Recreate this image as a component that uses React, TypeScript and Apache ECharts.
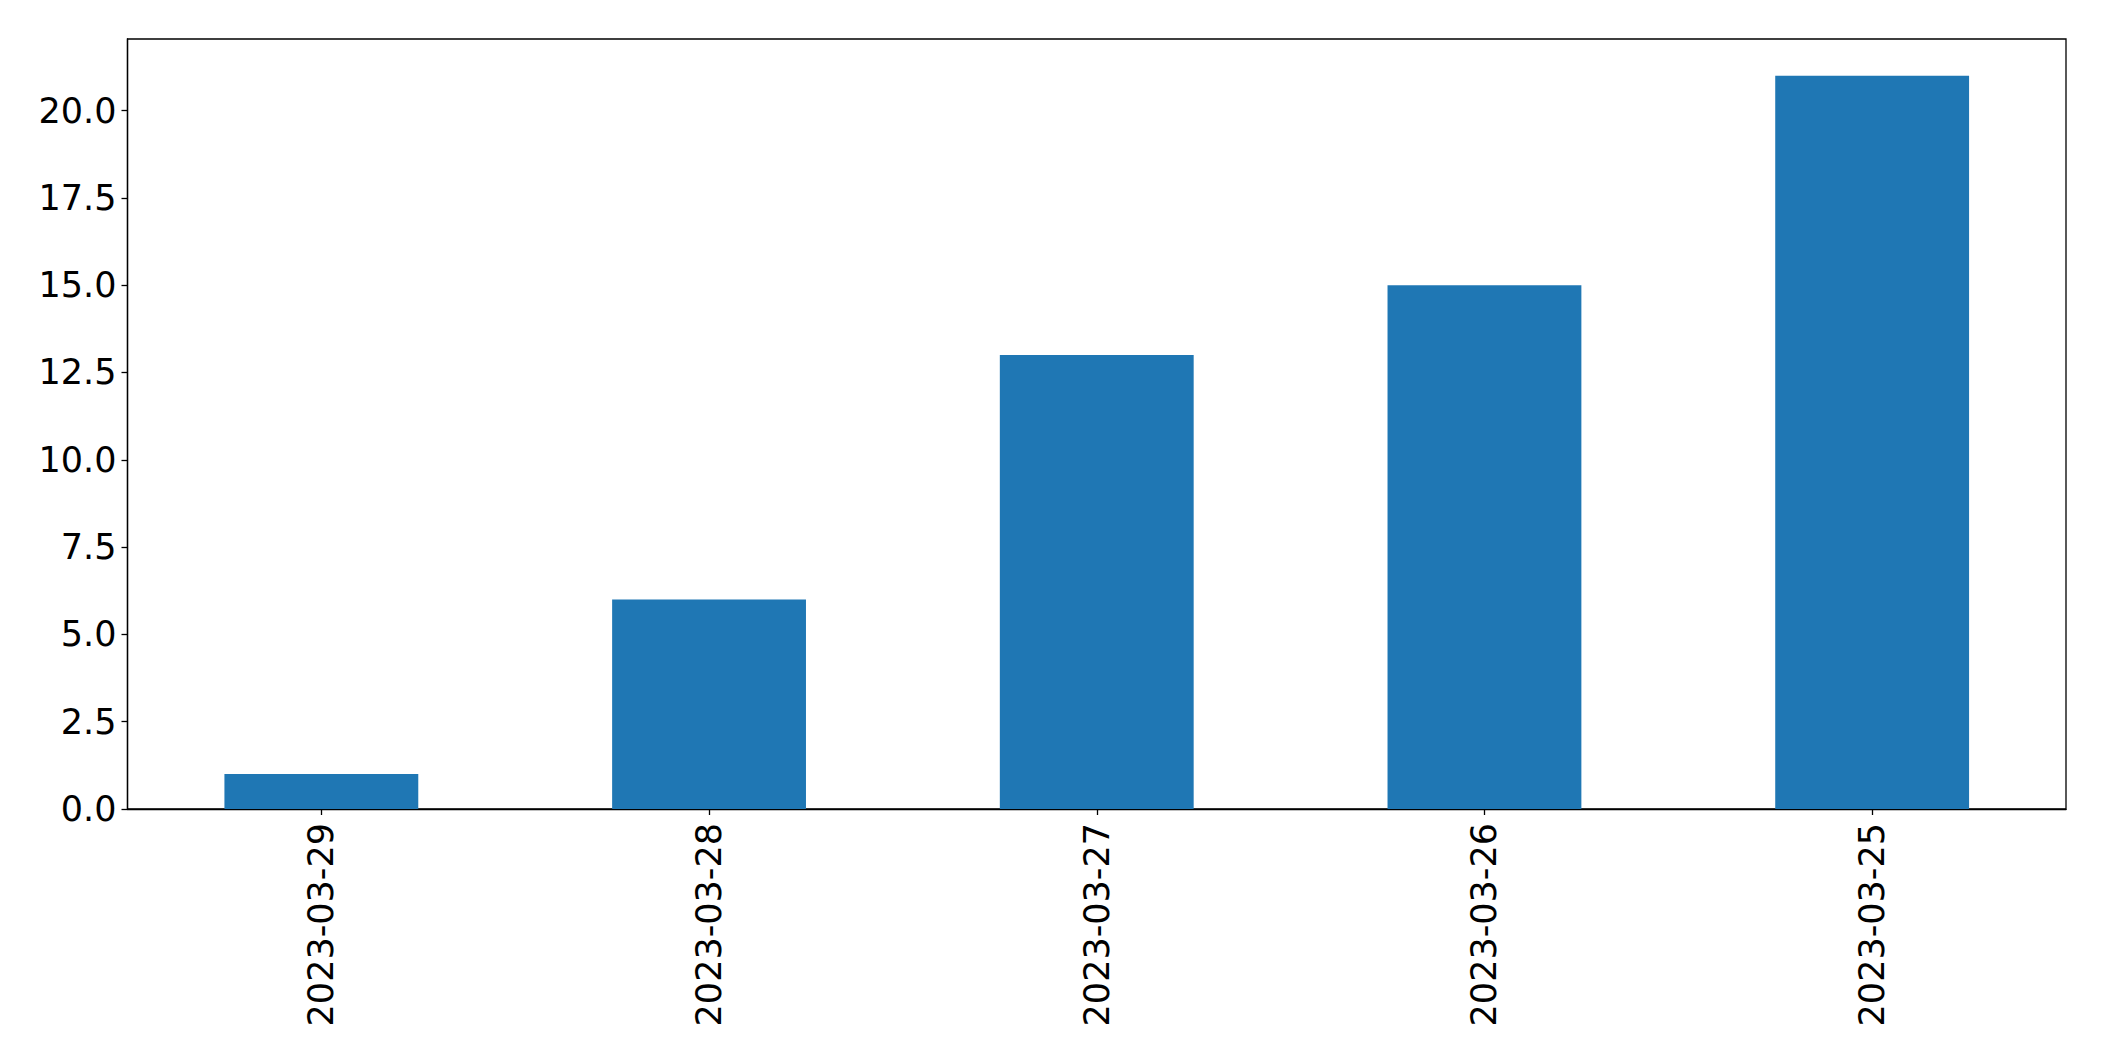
import React, { useEffect, useRef } from "react";
import * as echarts from "echarts";

const categories = ["2023-03-29", "2023-03-28", "2023-03-27", "2023-03-26", "2023-03-25"];
const values = [1, 6, 13, 15, 21];
const yTicks = [0, 2.5, 5, 7.5, 10, 12.5, 15, 17.5, 20];

export default function App() {
  const ref = useRef<HTMLDivElement>(null);
  useEffect(() => {
    if (!ref.current) return;
    const chart = echarts.init(ref.current, null, { renderer: "svg" });
    const font = "DejaVu Sans";
    chart.setOption({
      animation: false,
      backgroundColor: "#ffffff",
      grid: {
        left: 127.5,
        top: 39,
        right: 38,
        bottom: 252,
        show: true,
        borderColor: "#000000",
        borderWidth: 1.3,
        backgroundColor: "transparent",
      },
      xAxis: {
        type: "category",
        data: categories,
        axisLine: { show: true, lineStyle: { color: "#000000", width: 1.3 } },
        axisTick: { show: true, alignWithLabel: true, length: 6, lineStyle: { color: "#000000", width: 1.3 } },
        axisLabel: {
          rotate: 90,
          margin: 14,
          color: "#000000",
          fontFamily: font,
          fontSize: 35,
        },
        splitLine: { show: false },
      },
      yAxis: {
        type: "value",
        min: 0,
        max: 22.05,
        interval: 2.5,
        axisLine: { show: true, lineStyle: { color: "#000000", width: 1.3 } },
        axisTick: { show: true, length: 6, customValues: yTicks, lineStyle: { color: "#000000", width: 1.3 } },
        axisLabel: {
          customValues: yTicks,
          margin: 11,
          color: "#000000",
          fontFamily: font,
          fontSize: 35,
          formatter: (v: number) => v.toFixed(1),
        },
        splitLine: { show: false },
      },
      series: [
        {
          type: "bar",
          data: values,
          barWidth: "50%",
          itemStyle: { color: "#1f77b4" },
        },
      ],
    });
    return () => chart.dispose();
  }, []);
  return (
    <div
      ref={ref}
      style={{ position: "fixed", left: 0, top: 0, width: 2104, height: 1061, background: "#fff" }}
    />
  );
}
